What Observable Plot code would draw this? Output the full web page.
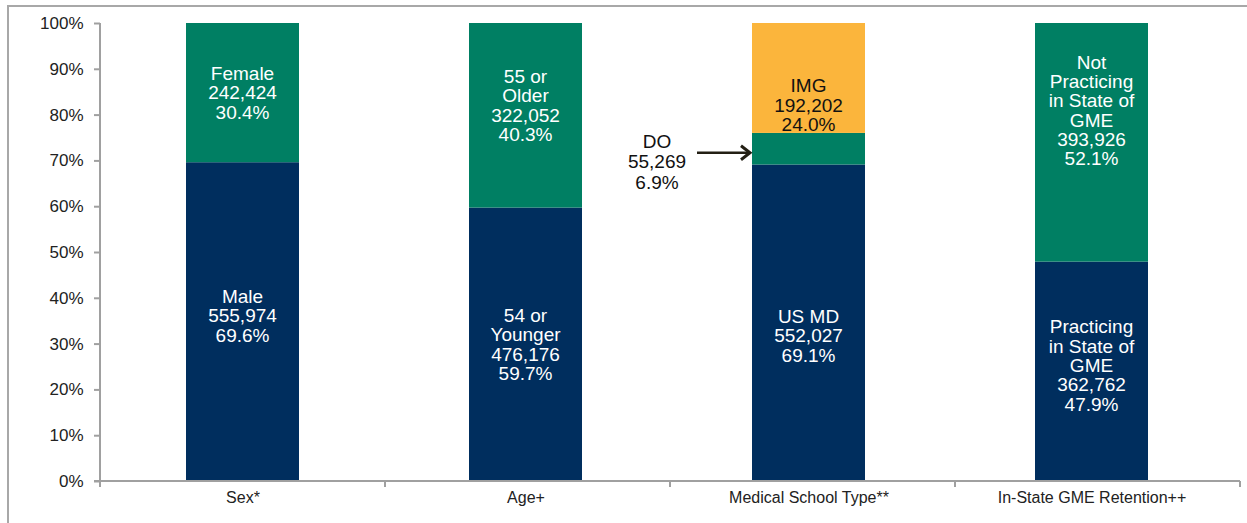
<!DOCTYPE html>
<html><head><meta charset="utf-8">
<script src="https://cdn.jsdelivr.net/npm/d3@7"></script>
<script src="https://cdn.jsdelivr.net/npm/@observablehq/plot@0.6"></script>
<style>
body{margin:0;background:#fff;font-family:"Liberation Sans",Arial,sans-serif;}
#frame{position:absolute;left:7px;top:5px;width:1300px;height:600px;border:2px solid #a8a8a8;box-sizing:border-box;}
#chart{position:absolute;left:0;top:0;}
</style></head><body><div id="frame"></div><div id="chart"></div>
<script>
const categories = ["Sex*", "Age+", "Medical School Type**", "In-State GME Retention++"];
const segmentNames = [
  ["Male", "Female"],
  ["54 or\nYounger", "55 or\nOlder"],
  ["US MD", "DO", "IMG"],
  ["Practicing\nin State of\nGME", "Not\nPracticing\nin State of\nGME"]
];
const segmentCounts = [[555974, 242424], [476176, 322052], [552027, 55269, 192202], [362762, 393926]];
const segmentPercents = [[69.6, 30.4], [59.7, 40.3], [69.1, 6.9, 24.0], [47.9, 52.1]];
const yTicks = [0, 10, 20, 30, 40, 50, 60, 70, 80, 90, 100];

// build stacked rows
const rows = [];
categories.forEach((cat, i) => {
  let acc = 0;
  segmentPercents[i].forEach((p, j) => {
    rows.push({cat, name: segmentNames[i][j], count: segmentCounts[i][j], pct: p, level: j, y1: acc, y2: acc + p});
    acc += p;
  });
});

const palette = ["#002e5e", "#007f63", "#fbb53c"];
const fmt = d3.format(",");
const FONT = '"Liberation Sans", Arial, sans-serif';
// label vertical nudges (pixels) to match reference placement
const labelDy = {"Male": -6, "Female": 0, "54 or\nYounger": 0, "55 or\nOlder": -10, "US MD": 13, "IMG": 27,
  "Practicing\nin State of\nGME": -6, "Not\nPracticing\nin State of\nGME": -32};
const inside = rows.filter(d => d.name !== "DO");
const doRow = rows.find(d => d.name === "DO");

function multiline(g, lines, x, yc, lh, fill, size) {
  const t = g.append("text").attr("text-anchor", "middle").attr("font-size", size)
    .attr("fill", fill).attr("font-family", FONT);
  const n = lines.length;
  lines.forEach((s, k) => {
    t.append("tspan").attr("x", x).attr("y", yc + (k - (n - 1) / 2) * lh).attr("dy", "0.35em").text(s);
  });
}

function decorations(index, scales, values, dims) {
  const g = d3.create("svg:g");
  const x0 = dims.marginLeft, x1 = dims.width - dims.marginRight;
  const yb = dims.height - dims.marginBottom, yt = dims.marginTop;
  const axisColor = "#a0a0a0";
  g.append("line").attr("x1", x0).attr("x2", x0).attr("y1", yt).attr("y2", yb)
    .attr("stroke", axisColor).attr("stroke-width", 2);
  g.append("line").attr("x1", x0 - 6).attr("x2", x1 + 6).attr("y1", yb).attr("y2", yb)
    .attr("stroke", axisColor).attr("stroke-width", 2);
  const step = (x1 - x0) / categories.length;
  for (let i = 0; i <= categories.length; i++) {
    const x = x0 + i * step + (i === categories.length ? 6 : i * 1.5);
    g.append("line").attr("x1", x).attr("x2", x).attr("y1", yb).attr("y2", yb + 6)
      .attr("stroke", axisColor).attr("stroke-width", 2);
  }
  const bwRaw = scales.x.bandwidth;
  const bw = typeof bwRaw === "function" ? bwRaw() : (bwRaw || step * 0.4);
  // segment labels
  inside.forEach(d => {
    const cx = scales.x(d.cat) + bw / 2;
    const cy = scales.y((d.y1 + d.y2) / 2) + (labelDy[d.name] || 0);
    const lines = [...d.name.split("\n"), fmt(d.count), d.pct.toFixed(1) + "%"];
    multiline(g, lines, cx, cy, 19.3, d.level === 2 ? "#111" : "#fff", 19);
  });
  // DO annotation
  const left = scales.x(doRow.cat);
  const ym = scales.y((doRow.y1 + doRow.y2) / 2);
  const ay = ym + 4;
  g.append("line").attr("x1", left - 55).attr("x2", left - 2).attr("y1", ay).attr("y2", ay)
    .attr("stroke", "#231f14").attr("stroke-width", 2.5);
  g.append("path").attr("d", `M${left - 11},${ay - 7} L${left - 2},${ay} L${left - 11},${ay + 7}`)
    .attr("fill", "none").attr("stroke", "#231f14").attr("stroke-width", 3);
  multiline(g, [doRow.name, fmt(doRow.count), doRow.pct.toFixed(1) + "%"], left - 95, ym + 13, 20.5, "#111", 19);
  return g.node();
}

const chart = Plot.plot({
  width: 1247,
  height: 523,
  marginLeft: 100,
  marginRight: 13,
  marginTop: 23,
  marginBottom: 42,
  style: {fontFamily: FONT, background: "transparent", overflow: "visible"},
  x: {domain: categories, paddingInner: 0.6, paddingOuter: 0.3, label: null},
  y: {domain: [0, 100], label: null},
  marks: [
    Plot.rectY(rows, {x: "cat", y1: "y1", y2: "y2", fill: d => palette[d.level]}),
    Plot.axisY({ticks: yTicks, tickFormat: d => d + "%", tickSize: 6, tickPadding: 11, stroke: "#a0a0a0", strokeWidth: 2, fill: "#222", fontSize: 17, label: null}),
    Plot.axisX({tickSize: 0, tickPadding: 10, fill: "#222", fontSize: 16, label: null}),
    decorations
  ]
});
document.getElementById("chart").appendChild(chart);
</script></body></html>
